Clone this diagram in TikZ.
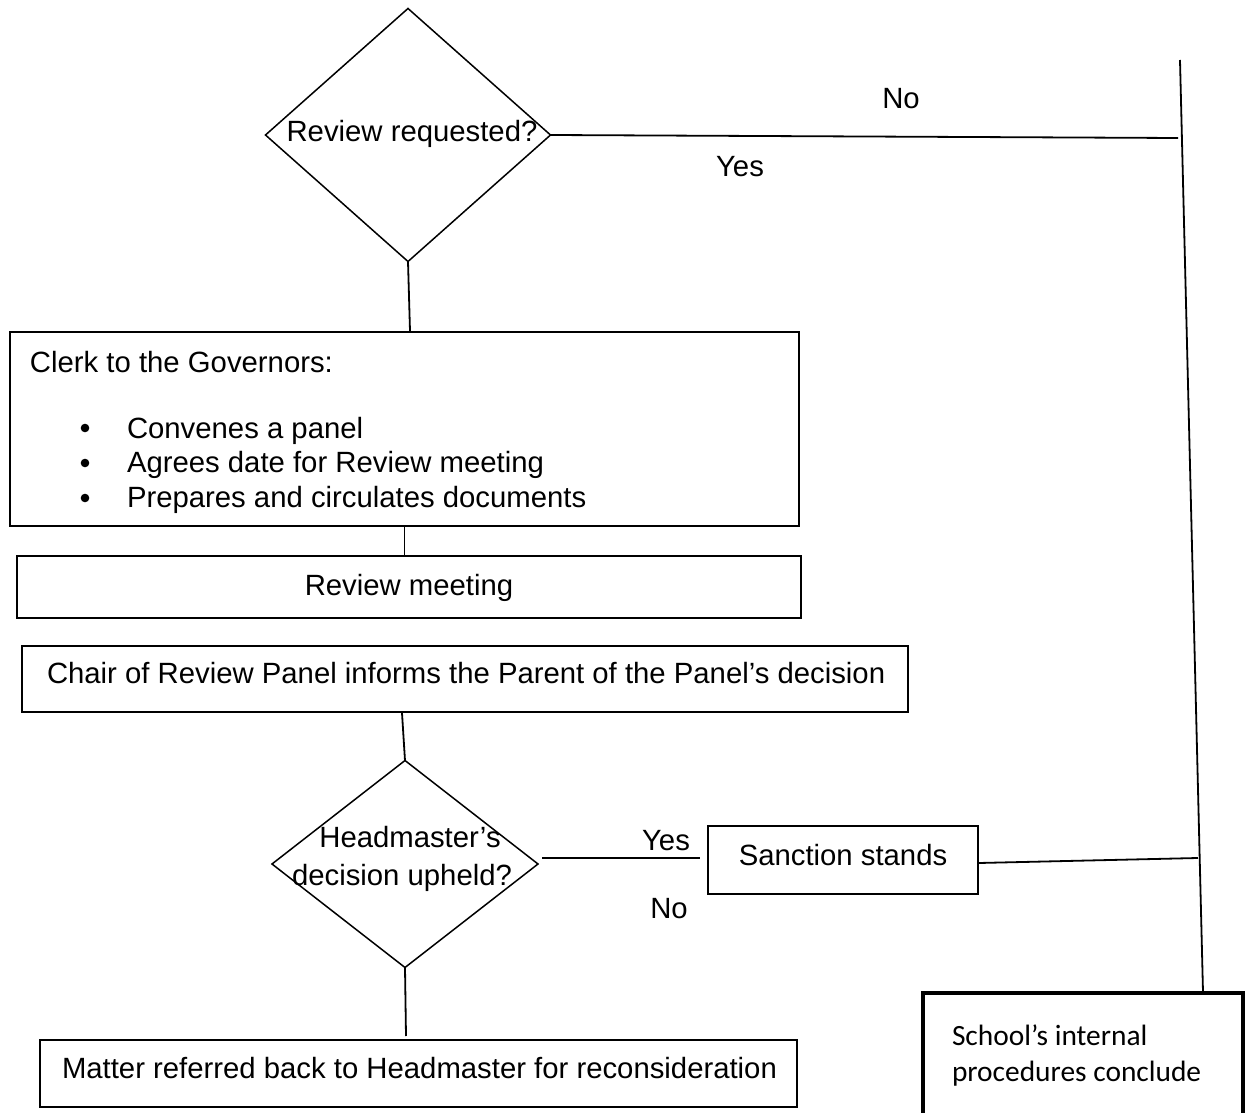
\documentclass[tikz,border=0pt]{standalone}
\usepackage{fontspec}
\setmainfont{Liberation Sans}
\newfontfamily\calib{Carlito}
\usetikzlibrary{shapes.geometric}
\begin{document}
\begin{tikzpicture}[x=0.5pt,y=-0.5pt,
  every node/.style={font=\fontsize{14.65}{17}\selectfont},
  conn/.style={line width=0.9pt},
  box/.style={draw,line width=0.85pt,rectangle,inner sep=0pt},
  thickbox/.style={draw,line width=2.3pt,rectangle,inner sep=0pt},
  dia/.style={draw,line width=0.75pt,diamond,inner sep=0pt,outer sep=0pt},
  txt/.style={inner sep=0pt,outer sep=0pt},
  bul/.style={circle,fill,inner sep=0pt,minimum size=4.3pt},
  stxt/.style={inner sep=0pt,outer sep=0pt,font=\calib\fontsize{14.7}{17}\selectfont}]
\useasboundingbox (0,0) rectangle (1250,1113);

% decision 1
\node[dia,minimum width=142.5pt,minimum height=126.5pt] (d1) at (408,135) {};
\node[txt,anchor=base] (d1t) at (412,142) {Review requested?};

% clerk box
\node[box,minimum width=394.5pt,minimum height=97pt] (b1) at (404.5,429) {};
\node[txt,anchor=base west] (b1t) at (30,372) {Clerk to the Governors:};
\node[bul] (bu1) at (85,428) {};
\node[bul] (bu2) at (85,463) {};
\node[bul] (bu3) at (85,498) {};
\node[txt,anchor=base west] (l1) at (127,438) {Convenes a panel};
\node[txt,anchor=base west] (l2) at (127,473) {Agrees date for Review meeting};
\node[txt,anchor=base west] (l3) at (127,508) {Prepares and circulates documents};

% review meeting
\node[box,minimum width=392pt,minimum height=31pt] (b2) at (409,587) {};
\node[txt,anchor=base] (b2t) at (409,595) {Review meeting};

% chair
\node[box,minimum width=443pt,minimum height=33pt] (b3) at (465,679) {};
\node[txt,anchor=base west] (b3t) at (47,683) {Chair of Review Panel informs the Parent of the Panel’s decision};

% decision 2
\node[dia,minimum width=133pt,minimum height=103.5pt] (d2) at (405,864) {};
\node[txt,anchor=base] (d2a) at (410,847) {Headmaster’s};
\node[txt,anchor=base] (d2b) at (402,885) {decision upheld?};

% sanction
\node[box,minimum width=135pt,minimum height=34pt] (sn) at (843,860) {};
\node[txt,anchor=base] (snt) at (843,865) {Sanction stands};

% matter
\node[box,minimum width=378.5pt,minimum height=33.5pt] (mt) at (418.5,1073.5) {};
\node[txt,anchor=base west] (mtt) at (62,1078) {Matter referred back to Headmaster for reconsideration};

% school box
\node[thickbox,minimum width=160pt,minimum height=66pt] (sc) at (1083,1059) {};
\node[stxt,anchor=base west] (sc1) at (952,1045) {School’s internal};
\node[stxt,anchor=base west] (sc2) at (952,1081) {procedures conclude};

% labels
\node[txt,anchor=base] (no1) at (901,109) {No};
\node[txt,anchor=base] (yes1) at (740,177) {Yes};
\node[txt,anchor=base] (yes2) at (666,850) {Yes};
\node[txt,anchor=base] (no2) at (669,918) {No};

% coordinates
\coordinate (c1) at (410,331);
\coordinate (j1) at (1178,138);
\coordinate (vtop) at (1180,60);
\coordinate (vbot) at (1203,992);
\coordinate (y2) at (700,858);
\coordinate (j2) at (1198,858);
\coordinate (c5) at (406,1036);
\coordinate (c4) at (402,713);

% connectors
\draw[conn] (d1.south) -- (c1);
\draw[conn] (d1.east) -- (j1);
\draw[conn] (vtop) -- (vbot);
\draw[conn] (b1.south) -- (b1.south |- b2.north);
\draw[conn] (c4) -- (d2.north);
\draw[conn] ([xshift=2pt]d2.east |- y2) -- (y2);
\draw[conn] ([yshift=-1.5pt]sn.east) -- (j2);
\draw[conn] (d2.south) -- (c5);
\end{tikzpicture}
\end{document}
